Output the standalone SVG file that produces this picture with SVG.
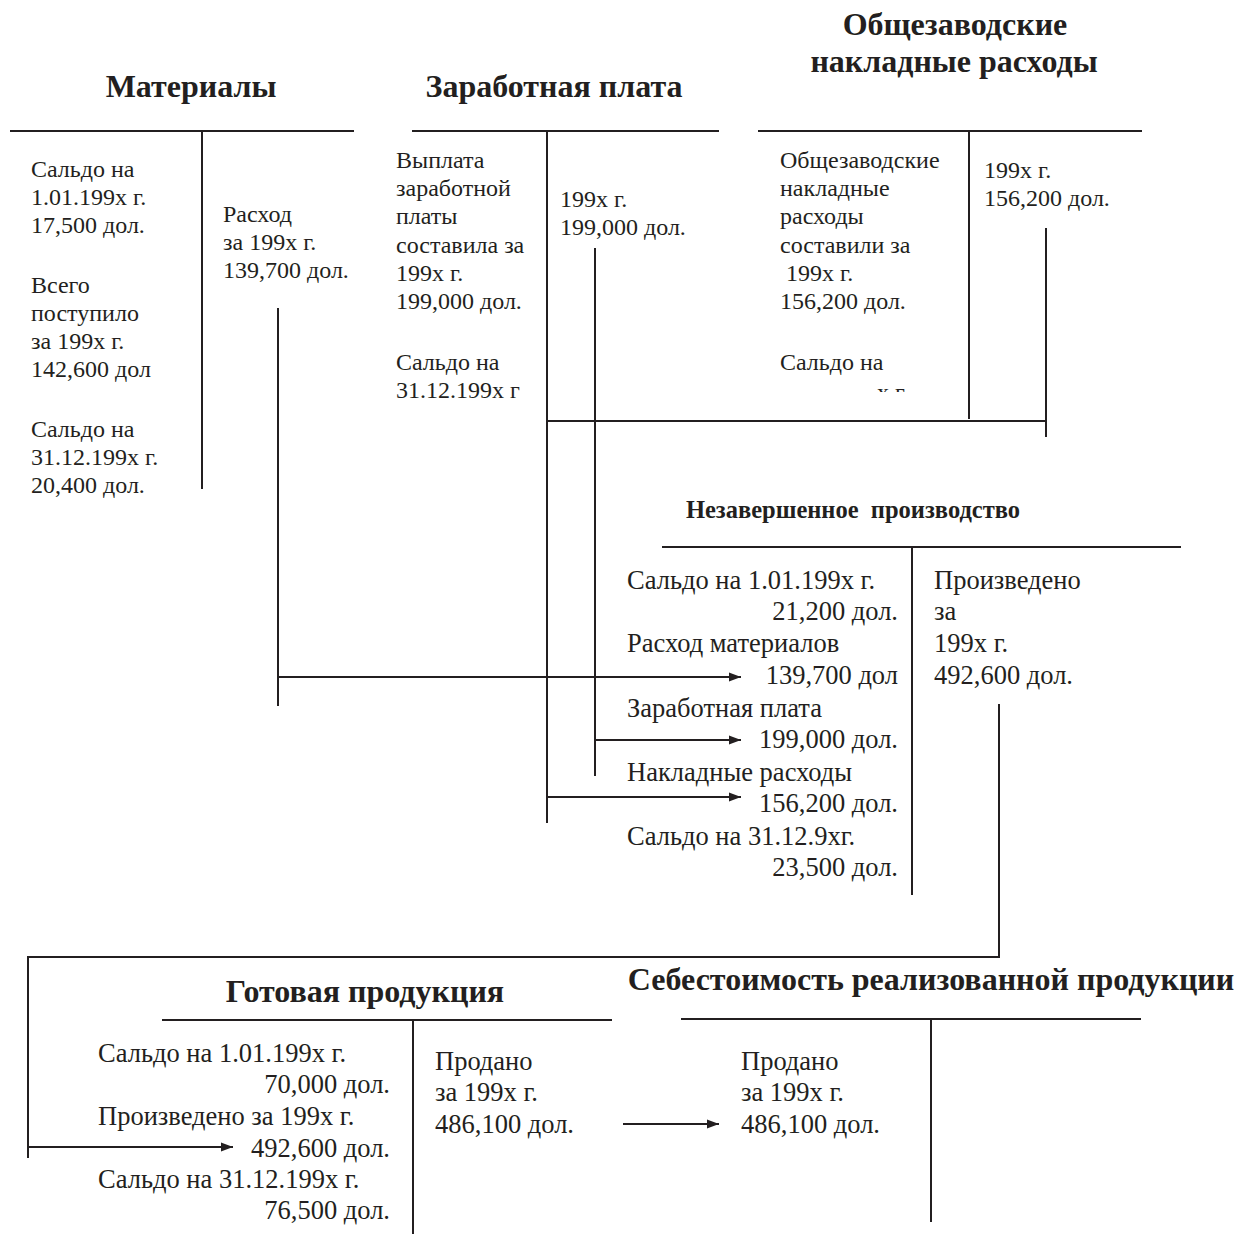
<svg xmlns="http://www.w3.org/2000/svg" width="1248" height="1234" viewBox="0 0 1248 1234">
<style>
text{font-family:"Liberation Serif","Times New Roman",serif;fill:#231f20}
.t{font-size:32px;font-weight:bold;text-anchor:middle}
.s{font-size:24px}
.m{font-size:26.5px}
.r{text-anchor:end}
.ln{stroke:#231f20;stroke-width:2;fill:none}
</style>
<defs>
<marker id="ah" markerWidth="12" markerHeight="10" refX="12" refY="5" orient="auto" markerUnits="userSpaceOnUse">
<path d="M0,0.5 L12,5 L0,9.5 z" fill="#231f20"/>
</marker>
<clipPath id="ovc"><rect x="760" y="380" width="205" height="12"/></clipPath>
</defs>
<rect width="1248" height="1234" fill="#fff"/>

<g id="materials">
<text class="t" x="191" y="97">Материалы</text>
<path class="ln" d="M10,131 H354 M202,131 V489"/>
<text class="s" x="31" y="177">Сальдо на</text>
<text class="s" x="31" y="205">1.01.199x г.</text>
<text class="s" x="31" y="233">17,500 дол.</text>
<text class="s" x="31" y="293">Всего</text>
<text class="s" x="31" y="321">поступило</text>
<text class="s" x="31" y="349">за 199x г.</text>
<text class="s" x="31" y="377">142,600 дол</text>
<text class="s" x="31" y="437">Сальдо на</text>
<text class="s" x="31" y="465">31.12.199x г.</text>
<text class="s" x="31" y="493">20,400 дол.</text>
<text class="s" x="223" y="222">Расход</text>
<text class="s" x="223" y="250">за 199x г.</text>
<text class="s" x="223" y="278">139,700 дол.</text>
</g>

<g id="wages">
<text class="t" x="554" y="97">Заработная плата</text>
<path class="ln" d="M412,131 H719 M547,131 V421"/>
<text class="s" x="396" y="168">Выплата</text>
<text class="s" x="396" y="196">заработной</text>
<text class="s" x="396" y="224">платы</text>
<text class="s" x="396" y="253">составила за</text>
<text class="s" x="396" y="281">199x г.</text>
<text class="s" x="396" y="309">199,000 дол.</text>
<text class="s" x="396" y="370">Сальдо на</text>
<text class="s" x="396" y="398">31.12.199x г</text>
<text class="s" x="560" y="207">199x г.</text>
<text class="s" x="560" y="235">199,000 дол.</text>
</g>

<g id="overhead">
<text class="t" x="955" y="35">Общезаводские</text>
<text class="t" x="954" y="72">накладные расходы</text>
<path class="ln" d="M758,131 H1142 M969,131 V419"/>
<text class="s" x="780" y="168">Общезаводские</text>
<text class="s" x="780" y="196">накладные</text>
<text class="s" x="780" y="224">расходы</text>
<text class="s" x="780" y="253">составили за</text>
<text class="s" x="780" y="281" xml:space="preserve"> 199x г.</text>
<text class="s" x="780" y="309">156,200 дол.</text>
<text class="s" x="780" y="370">Сальдо на</text>
<g clip-path="url(#ovc)"><text class="s" x="877" y="400">x г.</text></g>
<text class="s" x="984" y="178">199x г.</text>
<text class="s" x="984" y="206">156,200 дол.</text>
</g>

<g id="wip">
<text class="t" x="853" y="518" style="font-size:24.5px" xml:space="preserve">Незавершенное  производство</text>
<path class="ln" d="M662,547 H1181 M912,547 V895"/>
<text class="m" x="627" y="589">Сальдо на 1.01.199x г.</text>
<text class="m r" x="898" y="620">21,200 дол.</text>
<text class="m" x="627" y="652">Расход материалов</text>
<text class="m r" x="898" y="684">139,700 дол</text>
<text class="m" x="627" y="717">Заработная плата</text>
<text class="m r" x="898" y="748">199,000 дол.</text>
<text class="m" x="627" y="781">Накладные расходы</text>
<text class="m r" x="898" y="812">156,200 дол.</text>
<text class="m" x="627" y="845">Сальдо на 31.12.9хг.</text>
<text class="m r" x="898" y="876">23,500 дол.</text>
<text class="m" x="934" y="589">Произведено</text>
<text class="m" x="934" y="620">за</text>
<text class="m" x="934" y="652">199x г.</text>
<text class="m" x="934" y="684">492,600 дол.</text>
</g>

<g id="finished">
<text class="t" x="365" y="1002">Готовая продукция</text>
<path class="ln" d="M162,1020 H612 M413,1020 V1234"/>
<text class="m" x="98" y="1062">Сальдо на 1.01.199x г.</text>
<text class="m r" x="390" y="1093">70,000 дол.</text>
<text class="m" x="98" y="1125">Произведено за 199x г.</text>
<text class="m r" x="390" y="1157">492,600 дол.</text>
<text class="m" x="98" y="1188">Сальдо на 31.12.199x г.</text>
<text class="m r" x="390" y="1219">76,500 дол.</text>
<text class="m" x="435" y="1070">Продано</text>
<text class="m" x="435" y="1101">за 199x г.</text>
<text class="m" x="435" y="1133">486,100 дол.</text>
</g>

<g id="cogs">
<text class="t" x="931" y="990">Себестоимость реализованной продукции</text>
<path class="ln" d="M681,1019 H1141 M931,1019 V1222"/>
<text class="m" x="741" y="1070">Продано</text>
<text class="m" x="741" y="1101">за 199x г.</text>
<text class="m" x="741" y="1133">486,100 дол.</text>
</g>

<g id="connectors">
<path class="ln" d="M278,308 V706"/>
<path class="ln" d="M278,677 H741" marker-end="url(#ah)"/>
<path class="ln" d="M595,248 V776"/>
<path class="ln" d="M595,740 H741" marker-end="url(#ah)"/>
<path class="ln" d="M1046,228 V437 M1046,421 H547 V823"/>
<path class="ln" d="M547,797 H741" marker-end="url(#ah)"/>
<path class="ln" d="M999,704 V957 H28 V1158"/>
<path class="ln" d="M28,1147 H233" marker-end="url(#ah)"/>
<path class="ln" d="M623,1124 H719" marker-end="url(#ah)"/>
</g>
</svg>
